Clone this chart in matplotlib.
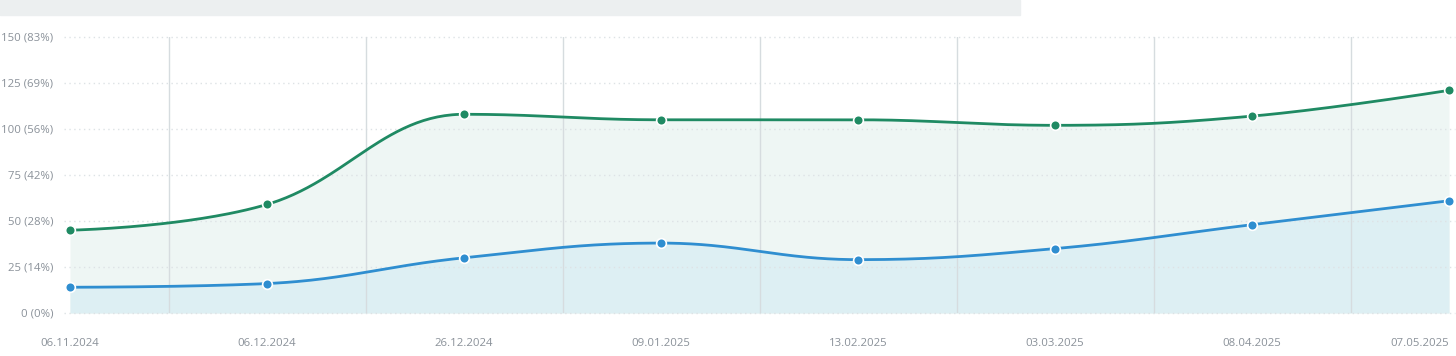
import numpy as np
import matplotlib
matplotlib.use("Agg")
import matplotlib.pyplot as plt
from matplotlib.patches import Rectangle

dates = ["06.11.2024", "06.12.2024", "26.12.2024", "09.01.2025",
         "13.02.2025", "03.03.2025", "08.04.2025", "07.05.2025"]
green_vals = [45, 59, 108, 105, 105, 102, 107, 121]
blue_vals = [14, 16, 30, 38, 29, 35, 48, 61]
y_ticks = [0, 25, 50, 75, 100, 125, 150]
y_labels = ["0 (0%)", "25 (14%)", "50 (28%)", "75 (42%)",
            "100 (56%)", "125 (69%)", "150 (83%)"]

GREEN = "#1f8a63"
BLUE = "#2f8ed0"
TEXT = "#8a9199"

plt.rcParams['font.family'] = ['Open Sans', 'DejaVu Sans']


def smooth(y, n=60):
    # spline with bezier control points, like the usual web chart "spline" type
    y = np.asarray(y, float)
    x = np.arange(len(y), dtype=float)
    k = 1.5
    left = [(x[0], y[0])]
    right = []
    for i in range(len(y)):
        if i == 0 or i == len(y) - 1:
            continue
        lx = (k * x[i] + x[i - 1]) / (k + 1)
        ly = (k * y[i] + y[i - 1]) / (k + 1)
        rx = (k * x[i] + x[i + 1]) / (k + 1)
        ry = (k * y[i] + y[i + 1]) / (k + 1)
        corr = (ry - ly) * (rx - x[i]) / (rx - lx) + y[i] - ry
        ly += corr
        ry += corr
        if ly > y[i - 1] and ly > y[i]:
            ly = max(y[i - 1], y[i]); ry = 2 * y[i] - ly
        elif ly < y[i - 1] and ly < y[i]:
            ly = min(y[i - 1], y[i]); ry = 2 * y[i] - ly
        if ry > y[i + 1] and ry > y[i]:
            ry = max(y[i + 1], y[i]); ly = 2 * y[i] - ry
        elif ry < y[i + 1] and ry < y[i]:
            ry = min(y[i + 1], y[i]); ly = 2 * y[i] - ry
        left.append((lx, ly))
        right.append((rx, ry))
    right = [(x[0], y[0])] + right
    left = left[1:] + [(x[-1], y[-1])]
    xs, ys = [], []
    for i in range(len(y) - 1):
        t = np.linspace(0, 1, n)
        p0 = np.array([x[i], y[i]])
        c1 = np.array(right[i])
        c2 = np.array(left[i])
        p3 = np.array([x[i + 1], y[i + 1]])
        pts = ((1 - t)**3)[:, None] * p0 + (3 * (1 - t)**2 * t)[:, None] * c1 \
            + (3 * (1 - t) * t**2)[:, None] * c2 + (t**3)[:, None] * p3
        xs.append(pts[:, 0])
        ys.append(pts[:, 1])
    return np.concatenate(xs), np.concatenate(ys)


fig = plt.figure(figsize=(14.56, 3.56), dpi=100)
fig.patches.append(Rectangle((0, 341 / 356), 1020 / 1456, 15 / 356,
                             transform=fig.transFigure, color="#eceff0", zorder=0))
ax = fig.add_axes([70 / 1456, 43 / 356, 1379 / 1456, 276 / 356])

x = np.arange(len(dates))
gx, gy = smooth(green_vals)
bx, by = smooth(blue_vals)

ax.fill_between(gx, gy, 0, color="#eef6f4", zorder=2, lw=0)
ax.fill_between(bx, by, 0, color="#ddeff3", zorder=2.5, lw=0)
for yt in y_ticks:
    ax.plot([-0.03, 7.03], [yt, yt], color="#dde2e5", lw=1,
            linestyle=(0, (1, 2.5)), zorder=3, clip_on=False)
for i in range(len(dates) - 1):
    ax.axvline(i + 0.5, color="#d6dcdf", lw=1, zorder=3)
ax.plot(gx, gy, color=GREEN, lw=2, zorder=4, clip_on=False)
ax.plot(bx, by, color=BLUE, lw=2, zorder=4, clip_on=False)
ax.plot(x, green_vals, "o", ms=7, color=GREEN, mec="white", mew=1.2,
        zorder=5, clip_on=False)
ax.plot(x, blue_vals, "o", ms=7, color=BLUE, mec="white", mew=1.2,
        zorder=5, clip_on=False)

ax.set_xlim(0, len(dates) - 1)
ax.set_ylim(0, 150)
ax.set_yticks(y_ticks)
ax.set_yticklabels(y_labels)
ax.set_xticks(x)
ax.set_xticklabels(dates)
ax.get_xticklabels()[-1].set_ha("right")
ax.tick_params(length=0, labelsize=8.2, labelcolor=TEXT)
ax.tick_params(axis="y", pad=12)
ax.tick_params(axis="x", pad=18)
for s in ax.spines.values():
    s.set_visible(False)

fig.savefig("out.png", dpi=100)
